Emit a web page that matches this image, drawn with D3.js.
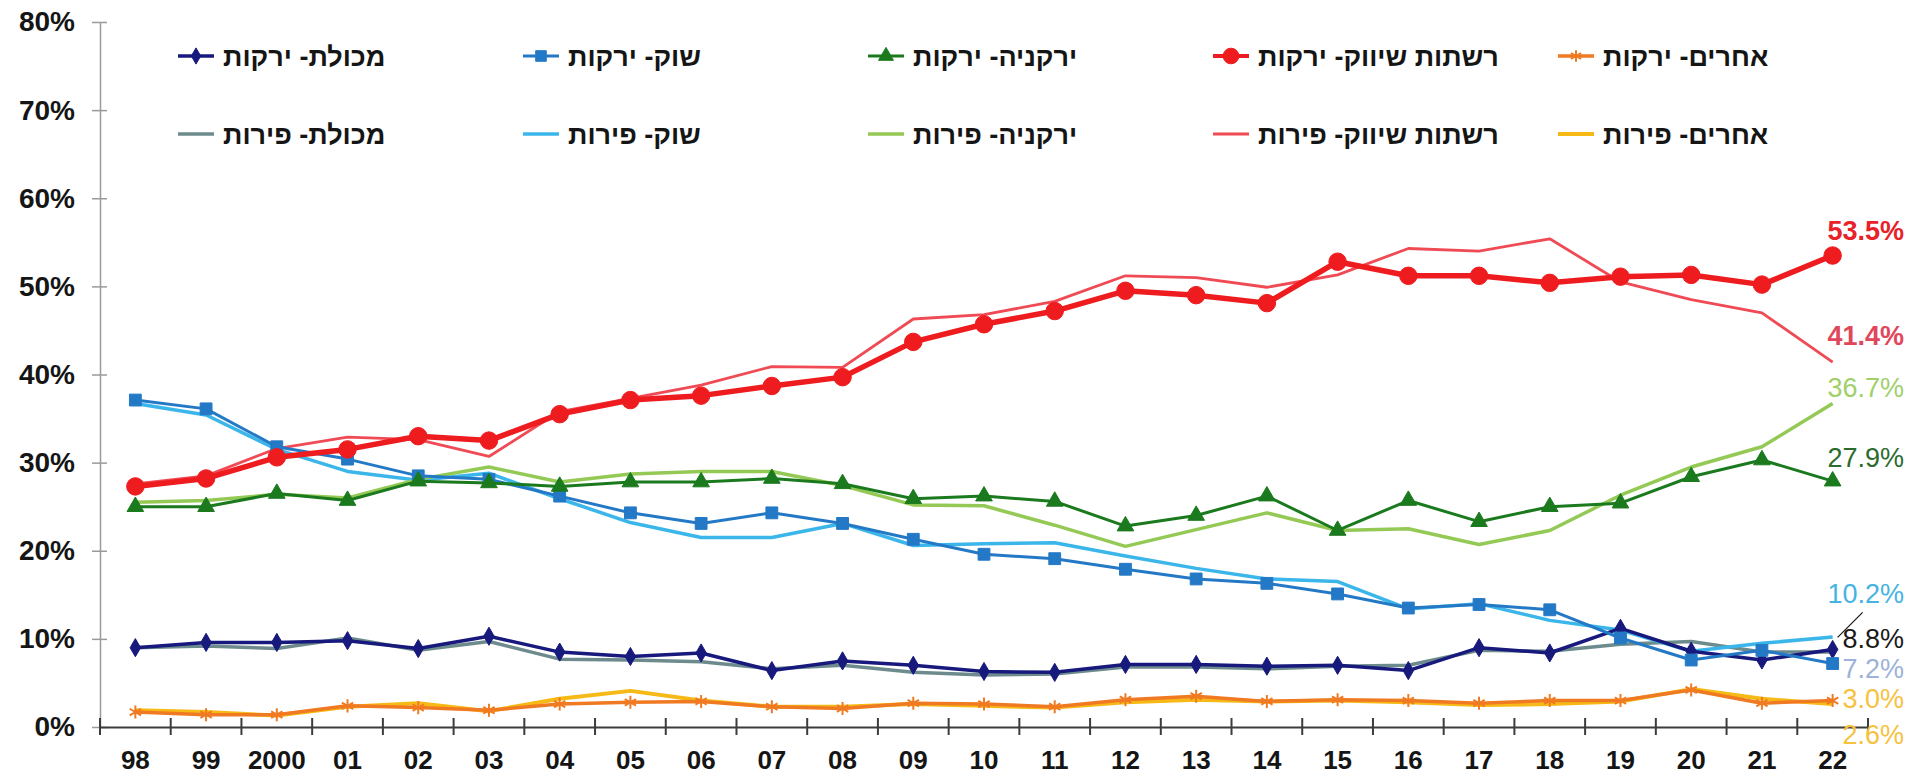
<!doctype html>
<html>
<head>
  <meta charset="utf-8">
  <title>נתחי שוק - ירקות ופירות</title>
  <script src="https://cdn.jsdelivr.net/npm/d3@7"></script>
  <style>
    body { margin: 0; background: #fff; }
    svg { display: block; font-family: "Liberation Sans", Arial, sans-serif; }
  </style>
</head>
<body>
  <div id="chart"></div>

  <script type="text/javascript">
    var width = 1910;
    var height = 777;

    var years = ['98', '99', '2000', '01', '02', '03', '04', '05', '06', '07', '08', '09',
      '10', '11', '12', '13', '14', '15', '16', '17', '18', '19', '20', '21', '22'];
    var yTicks = [0, 10, 20, 30, 40, 50, 60, 70, 80];

    // ירקות
    var makoletVeg = [9.0, 9.6, 9.6, 9.8, 8.9, 10.3, 8.5, 8.0, 8.4, 6.4, 7.5, 7.0, 6.3, 6.2, 7.1, 7.1, 6.9, 7.0, 6.4, 9.0, 8.4, 11.2, 8.6, 7.6, 8.8];
    var shukVeg = [37.1, 36.1, 31.8, 30.4, 28.5, 28.1, 26.2, 24.3, 23.1, 24.3, 23.1, 21.3, 19.6, 19.1, 17.9, 16.8, 16.3, 15.1, 13.5, 13.9, 13.3, 10.1, 7.6, 8.7, 7.2];
    var yarkaniaVeg = [25.0, 25.0, 26.5, 25.7, 27.9, 27.7, 27.3, 27.8, 27.8, 28.2, 27.6, 25.9, 26.2, 25.6, 22.8, 24.0, 26.2, 22.3, 25.7, 23.3, 25.0, 25.4, 28.4, 30.3, 27.9];
    var chainsVeg = [27.3, 28.2, 30.6, 31.5, 33.0, 32.5, 35.5, 37.1, 37.6, 38.7, 39.7, 43.7, 45.7, 47.2, 49.5, 49.0, 48.1, 52.8, 51.2, 51.2, 50.4, 51.1, 51.3, 50.2, 53.5];
    var othersVeg = [1.7, 1.4, 1.4, 2.4, 2.2, 1.9, 2.6, 2.8, 2.9, 2.3, 2.1, 2.7, 2.6, 2.3, 3.1, 3.5, 2.9, 3.1, 3.0, 2.7, 3.0, 3.0, 4.2, 2.7, 3.0];

    // פירות
    var makoletFruit = [9.0, 9.2, 8.9, 10.1, 8.7, 9.7, 7.7, 7.6, 7.4, 6.6, 7.0, 6.2, 5.9, 6.0, 6.8, 6.8, 6.6, 6.9, 7.0, 8.7, 8.6, 9.4, 9.7, 8.5, 8.5];
    var shukFruit = [36.7, 35.4, 31.5, 29.0, 28.0, 28.8, 25.9, 23.2, 21.5, 21.5, 23.1, 20.6, 20.8, 20.9, 19.4, 18.0, 16.8, 16.5, 13.4, 14.0, 12.1, 11.0, 8.6, 9.5, 10.2];
    var yarkaniaFruit = [25.5, 25.7, 26.4, 26.0, 28.1, 29.5, 27.8, 28.7, 29.0, 29.0, 27.4, 25.2, 25.1, 22.9, 20.5, 22.4, 24.3, 22.3, 22.5, 20.7, 22.3, 26.3, 29.5, 31.8, 36.7];
    var chainsFruit = [27.6, 28.5, 31.6, 32.9, 32.6, 30.7, 35.8, 37.3, 38.8, 40.9, 40.8, 46.3, 46.8, 48.3, 51.2, 51.0, 49.9, 51.3, 54.3, 54.0, 55.4, 50.5, 48.5, 47.0, 41.4];
    var othersFruit = [1.9, 1.7, 1.3, 2.3, 2.7, 1.8, 3.2, 4.1, 3.0, 2.3, 2.3, 2.6, 2.4, 2.2, 2.8, 3.1, 2.9, 3.0, 2.8, 2.5, 2.6, 2.9, 4.3, 3.2, 2.6];

    var endLabels = ['53.5%', '41.4%', '36.7%', '27.9%', '10.2%', '8.8%', '7.2%', '3.0%', '2.6%'];

    // series: name, values, style (drawn in this order)
    var series = [
      { name: 'מכולת- פירות', values: makoletFruit, color: '#6d8b8d', w: 3.5, sym: null, row: 1, col: 0 },
      { name: 'שוק- פירות', values: shukFruit, color: '#3bb6ea', w: 3.5, sym: null, row: 1, col: 1 },
      { name: 'ירקניה- פירות', values: yarkaniaFruit, color: '#94c955', w: 3.5, sym: null, row: 1, col: 2 },
      { name: 'רשתות שיווק- פירות', values: chainsFruit, color: '#f04b55', w: 2.8, sym: null, row: 1, col: 3 },
      { name: 'אחרים- פירות', values: othersFruit, color: '#f6b915', w: 4, sym: null, row: 1, col: 4 },
      { name: 'מכולת- ירקות', values: makoletVeg, color: '#17197c', w: 3.5, sym: d3.symbolDiamond, size: 95, row: 0, col: 0 },
      { name: 'שוק- ירקות', values: shukVeg, color: '#2479c6', w: 3, sym: d3.symbolSquare, size: 140, row: 0, col: 1 },
      { name: 'ירקניה- ירקות', values: yarkaniaVeg, color: '#1b7a1e', w: 3, sym: d3.symbolTriangle, size: 120, row: 0, col: 2 },
      { name: 'רשתות שיווק- ירקות', values: chainsVeg, color: '#ee1c1f', w: 5.5, sym: d3.symbolCircle, size: 240, row: 0, col: 3 },
      { name: 'אחרים- ירקות', values: othersVeg, color: '#f07a22', w: 3.5, sym: d3.symbolAsterisk, size: 120, stroke: true, row: 0, col: 4 }
    ];

    // end labels: which series, colour, weight, vertical nudge
    var labelStyle = [
      { s: 8, color: '#e8222a', bold: true, dy: -25 },
      { s: 3, color: '#e0475a', bold: true, dy: -27 },
      { s: 2, color: '#9fd06a', bold: false, dy: -16 },
      { s: 7, color: '#2c6b2e', bold: false, dy: -24 },
      { s: 1, color: '#45b3e2', bold: false, dy: -44 },
      { s: 5, color: '#1a1a1a', bold: false, dy: -11 },
      { s: 6, color: '#9db2d8', bold: false, dy: 5 },
      { s: 9, color: '#f6c23e', bold: false, dy: -2 },
      { s: 4, color: '#f6c23e', bold: false, dy: 30 }
    ];

    var svg = d3.select('#chart')
      .append('svg')
      .attr('width', width)
      .attr('height', height);

    var x = d3.scaleBand().domain(years).range([100, 1868]);
    var y = d3.scaleLinear().domain([0, 80]).range([727, 22]);
    var cx = function(i) { return x(years[i]) + x.bandwidth() / 2; };

    // y axis
    var yAxis = svg.append('g')
      .attr('transform', 'translate(100,0)')
      .call(d3.axisLeft(y).tickValues(yTicks).tickFormat(function(d) { return d + '%'; })
        .tickSize(8).tickSizeOuter(0).tickPadding(17));
    yAxis.select('.domain').attr('stroke', '#9a9a9a').attr('stroke-width', 1.5);
    yAxis.selectAll('.tick line').attr('x1', 7).attr('x2', -8).attr('stroke', '#9a9a9a').attr('stroke-width', 1.5);
    yAxis.selectAll('.tick text')
      .attr('font-size', '28px').attr('font-weight', 'bold').attr('fill', '#151515')
      .attr('font-family', '"Liberation Sans", Arial, sans-serif');

    // x axis
    var xAxis = svg.append('g')
      .attr('transform', 'translate(0,727)')
      .call(d3.axisBottom(x).tickSize(0).tickPadding(24));
    xAxis.select('.domain').attr('stroke', '#3c3c3c').attr('stroke-width', 2);
    xAxis.selectAll('.tick text')
      .attr('font-size', '26px').attr('font-weight', 'bold').attr('fill', '#151515')
      .attr('font-family', '"Liberation Sans", Arial, sans-serif');
    xAxis.selectAll('line.bound')
      .data(years.map(function(d) { return x(d); }).concat([x.range()[1]]))
      .enter()
      .append('line')
      .attr('class', 'bound')
      .attr('x1', function(d) { return d; })
      .attr('x2', function(d) { return d; })
      .attr('y1', -9)
      .attr('y2', 8)
      .attr('stroke', '#3c3c3c')
      .attr('stroke-width', 2);

    // lines and markers
    var line = d3.line()
      .x(function(d, i) { return cx(i); })
      .y(function(d) { return y(d); });

    series.forEach(function(s) {
      var g = svg.append('g');
      g.append('path')
        .datum(s.values)
        .attr('d', line)
        .attr('fill', 'none')
        .attr('stroke', s.color)
        .attr('stroke-width', s.w)
        .attr('stroke-linejoin', 'round');
      if (s.sym) {
        g.selectAll('path.mark')
          .data(s.values)
          .enter()
          .append('path')
          .attr('class', 'mark')
          .attr('d', d3.symbol().type(s.sym).size(s.size))
          .attr('transform', function(d, i) { return 'translate(' + cx(i) + ',' + y(d) + ')'; })
          .attr('fill', s.stroke ? 'none' : s.color)
          .attr('stroke', s.color)
          .attr('stroke-width', s.stroke ? 2 : 1);
      }
    });

    // end labels
    var last = years.length - 1;
    svg.selectAll('text.endlab')
      .data(labelStyle)
      .enter()
      .append('text')
      .attr('class', 'endlab')
      .attr('x', 1904)
      .attr('y', function(d, i) { return y(series[d.s].values[last]) + d.dy; })
      .attr('dy', '0.36em')
      .attr('text-anchor', 'end')
      .attr('font-size', '27px')
      .attr('font-weight', function(d) { return d.bold ? 'bold' : 'normal'; })
      .attr('fill', function(d) { return d.color; })
      .text(function(d, i) { return endLabels[i]; });

    // leader line for the 8.8% label
    svg.append('line')
      .attr('x1', cx(last) + 5)
      .attr('y1', y(makoletVeg[last]) - 12)
      .attr('x2', cx(last) + 30)
      .attr('y2', y(makoletVeg[last]) - 37)
      .attr('stroke', '#1a1a1a')
      .attr('stroke-width', 1.2);

    // legend
    var legend = svg.selectAll('g.legend')
      .data(series)
      .enter()
      .append('g')
      .attr('class', 'legend')
      .attr('transform', function(d) {
        return 'translate(' + (178 + d.col * 345) + ',' + (d.row ? 134 : 56) + ')';
      });

    legend.append('line')
      .attr('x1', 0)
      .attr('x2', 36)
      .attr('stroke', function(d) { return d.color; })
      .attr('stroke-width', function(d) { return Math.min(d.w, 4); });

    legend.filter(function(d) { return d.sym; })
      .append('path')
      .attr('d', function(d) { return d3.symbol().type(d.sym).size(d.size * 0.8)(); })
      .attr('transform', 'translate(18,0)')
      .attr('fill', function(d) { return d.stroke ? 'none' : d.color; })
      .attr('stroke', function(d) { return d.color; })
      .attr('stroke-width', function(d) { return d.stroke ? 2 : 1; });

    legend.append('text')
      .attr('x', 45)
      .attr('dy', '0.36em')
      .attr('font-size', '27px')
      .attr('font-weight', 'bold')
      .attr('fill', '#151515')
      .text(function(d) { return d.name; });
  </script>
</body>
</html>
